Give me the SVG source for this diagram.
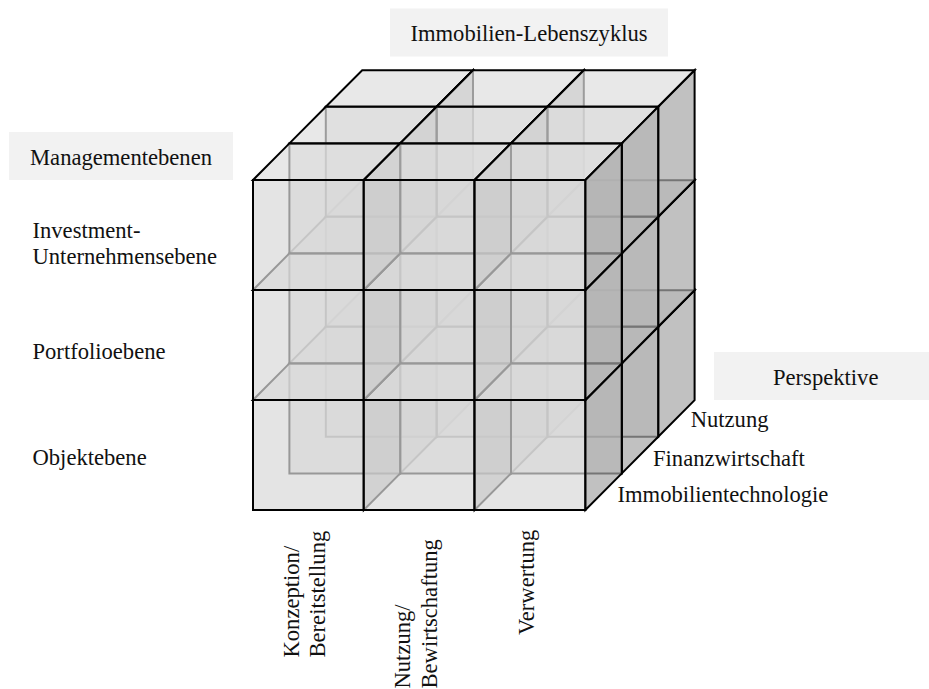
<svg xmlns="http://www.w3.org/2000/svg" xmlns:xlink="http://www.w3.org/1999/xlink" width="929" height="689" viewBox="0 0 929 689">
  <style>
    .lbl { font-family: "Liberation Serif", "Times New Roman", serif; font-size: 22.6px; fill: #111111; }
    .mid { text-anchor: middle; }
    .box { fill: #f2f2f2; stroke: none; }
    .face { stroke: #000000; stroke-width: 2; stroke-linejoin: miter; fill-opacity: 0.7; }
    .front { fill: #d8d8d8; }
    .top { fill: #dedede; }
    .side { fill: #a6a6a6; }
  </style>
  <defs>
    <!-- one cell of the cube: front face 110.8 x 110, depth offset (36.4, -36.6) -->
    <g id="cell">
      <polygon class="face front" points="0,0 110.8,0 110.8,110 0,110"/>
      <polygon class="face top" points="0,0 36.4,-36.6 147.2,-36.6 110.8,0"/>
      <polygon class="face side" points="110.8,0 147.2,-36.6 147.2,73.4 110.8,110"/>
    </g>
  </defs>

  <!-- header labels -->
  <g id="label-lebenszyklus">
    <rect class="box" x="390" y="8.5" width="278" height="48"/>
    <text class="lbl mid" x="529" y="41">Immobilien-Lebenszyklus</text>
  </g>
  <g id="label-managementebenen">
    <rect class="box" x="9" y="132" width="224" height="48"/>
    <text class="lbl mid" x="121" y="165">Managementebenen</text>
  </g>
  <g id="label-perspektive">
    <rect class="box" x="714" y="352" width="215" height="48"/>
    <text class="lbl" x="773" y="384.5">Perspektive</text>
  </g>

  <!-- cube cells: back layer first, bottom row first, left column first -->
  <g id="cube">
    <g id="layer-back">
      <use id="c-b-r3-k1" xlink:href="#cell" x="325.8" y="326.8"/>
      <use id="c-b-r3-k2" xlink:href="#cell" x="436.6" y="326.8"/>
      <use id="c-b-r3-k3" xlink:href="#cell" x="547.4" y="326.8"/>
      <use id="c-b-r2-k1" xlink:href="#cell" x="325.8" y="216.8"/>
      <use id="c-b-r2-k2" xlink:href="#cell" x="436.6" y="216.8"/>
      <use id="c-b-r2-k3" xlink:href="#cell" x="547.4" y="216.8"/>
      <use id="c-b-r1-k1" xlink:href="#cell" x="325.8" y="106.8"/>
      <use id="c-b-r1-k2" xlink:href="#cell" x="436.6" y="106.8"/>
      <use id="c-b-r1-k3" xlink:href="#cell" x="547.4" y="106.8"/>
    </g>
    <g id="layer-middle">
      <use id="c-m-r3-k1" xlink:href="#cell" x="289.4" y="363.4"/>
      <use id="c-m-r3-k2" xlink:href="#cell" x="400.2" y="363.4"/>
      <use id="c-m-r3-k3" xlink:href="#cell" x="511.0" y="363.4"/>
      <use id="c-m-r2-k1" xlink:href="#cell" x="289.4" y="253.4"/>
      <use id="c-m-r2-k2" xlink:href="#cell" x="400.2" y="253.4"/>
      <use id="c-m-r2-k3" xlink:href="#cell" x="511.0" y="253.4"/>
      <use id="c-m-r1-k1" xlink:href="#cell" x="289.4" y="143.4"/>
      <use id="c-m-r1-k2" xlink:href="#cell" x="400.2" y="143.4"/>
      <use id="c-m-r1-k3" xlink:href="#cell" x="511.0" y="143.4"/>
    </g>
    <g id="layer-front">
      <use id="c-f-r3-k1" xlink:href="#cell" x="253" y="400"/>
      <use id="c-f-r3-k2" xlink:href="#cell" x="363.8" y="400"/>
      <use id="c-f-r3-k3" xlink:href="#cell" x="474.6" y="400"/>
      <use id="c-f-r2-k1" xlink:href="#cell" x="253" y="290"/>
      <use id="c-f-r2-k2" xlink:href="#cell" x="363.8" y="290"/>
      <use id="c-f-r2-k3" xlink:href="#cell" x="474.6" y="290"/>
      <use id="c-f-r1-k1" xlink:href="#cell" x="253" y="180"/>
      <use id="c-f-r1-k2" xlink:href="#cell" x="363.8" y="180"/>
      <use id="c-f-r1-k3" xlink:href="#cell" x="474.6" y="180"/>
    </g>
  </g>

  <!-- management levels (rows) -->
  <g id="rows">
    <text class="lbl" x="32.5" y="237.7">Investment-</text>
    <text class="lbl" x="32.5" y="264">Unternehmensebene</text>
    <text class="lbl" x="32.5" y="359.3">Portfolioebene</text>
    <text class="lbl" x="32.5" y="465">Objektebene</text>
  </g>

  <!-- perspectives (depth layers) -->
  <g id="layers">
    <text class="lbl" x="690.7" y="427.3">Nutzung</text>
    <text class="lbl" x="653" y="466">Finanzwirtschaft</text>
    <text class="lbl" x="617.5" y="502">Immobilientechnologie</text>
  </g>

  <!-- life-cycle phases (columns) -->
  <g id="columns">
    <text class="lbl" transform="translate(299,657.5) rotate(-90)">Konzeption/</text>
    <text class="lbl" transform="translate(325.3,657.5) rotate(-90)">Bereitstellung</text>
    <text class="lbl" transform="translate(410,688.5) rotate(-90)">Nutzung/</text>
    <text class="lbl" transform="translate(436.5,688.5) rotate(-90)">Bewirtschaftung</text>
    <text class="lbl" transform="translate(533.5,635) rotate(-90)">Verwertung</text>
  </g>
</svg>
